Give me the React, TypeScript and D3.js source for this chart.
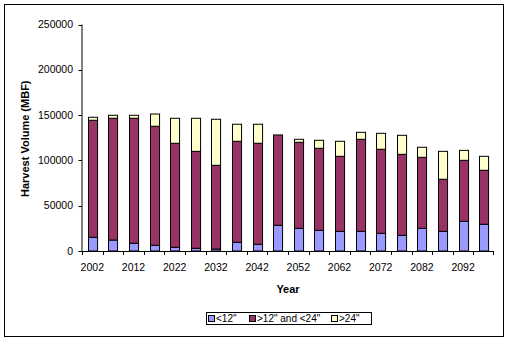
import React from "react";
import * as d3 from "d3";

const years = [2002, 2007, 2012, 2017, 2022, 2027, 2032, 2037, 2042, 2047, 2052, 2057, 2062, 2067, 2072, 2077, 2082, 2087, 2092, 2097];
const small = [15100, 12100, 8500, 6300, 4100, 3000, 2200, 9600, 7400, 28400, 25000, 22800, 21700, 21700, 19500, 17300, 25000, 21700, 32800, 29500];
const mid = [129200, 134400, 138000, 131400, 114800, 107000, 92400, 111500, 111500, 99700, 95000, 90600, 82800, 101600, 92800, 89400, 78400, 57500, 67300, 59600];
const large = [3300, 3300, 3300, 13500, 27600, 36500, 50800, 18800, 21000, 0, 3300, 8800, 16600, 7700, 17600, 21000, 11100, 30800, 11000, 15400];
const seriesNames = ['<12"', '>12" and <24"', '>24"'];
const colors = ["#9999FF", "#993366", "#FFFFCC"];
const yTicks = [0, 50000, 100000, 150000, 200000, 250000];

export default function App() {
  const W = 512, H = 344;
  const left = 82, right = 494, top = 24.5, bottom = 251;
  const x = d3.scaleBand<number>().domain(years).range([left, right]).paddingInner(0.56).paddingOuter(0.28);
  const xb = d3.scaleBand<number>().domain(years).range([left, right]);
  const y = d3.scaleLinear().domain([0, 250000]).range([bottom, top]);
  const table = years.map((yr, i) => ({ year: yr, s: small[i], m: mid[i], l: large[i] }));
  const stacked = d3.stack<any>().keys(["s", "m", "l"])(table);
  const font = "'Liberation Sans', Arial, sans-serif";
  const legendX = 206, legendY = 312;
  const legendItems = [
    { x: 208, tx: 216 },
    { x: 249, tx: 257 },
    { x: 331, tx: 339 },
  ];
  return (
    <svg width={W} height={H} style={{ position: "absolute", left: 0, top: 0 }} fontFamily={font}>
      <rect x={0} y={0} width={W} height={H} fill="#fff" />
      <rect x={4.5} y={4.5} width={499} height={332} fill="#fff" stroke="#000" strokeWidth={1} />
      {stacked.map((ser, si) =>
        ser.map((d, i) => {
          const h = y(d[0]) - y(d[1]);
          if (h <= 0) return null;
          return (
            <rect key={si + "-" + i} x={Math.round(x(years[i])!) + 0.5} y={y(d[1])} width={x.bandwidth()} height={h}
              fill={colors[si]} stroke="#000" strokeWidth={1} />
          );
        })
      )}
      <line x1={left} x2={left} y1={top} y2={bottom} stroke="#000" />
      <line x1={left} x2={right} y1={bottom + 0.5} y2={bottom + 0.5} stroke="#000" />
      {yTicks.map((t) => (
        <g key={t}>
          <line x1={left - 3.5} x2={left} y1={Math.round(y(t)) + 0.5} y2={Math.round(y(t)) + 0.5} stroke="#000" />
          <text x={left - 9} y={y(t)} dy="0.35em" textAnchor="end" fontSize={10.5}>{t}</text>
        </g>
      ))}
      {years.map((yr) => (
        <line key={yr} x1={Math.round(xb(yr)!) + 0.5} x2={Math.round(xb(yr)!) + 0.5} y1={bottom} y2={bottom + 4} stroke="#000" />
      ))}
      <line x1={right - 0.5} x2={right - 0.5} y1={bottom} y2={bottom + 4} stroke="#000" />
      {years.map((yr, i) => i % 2 === 0 ? (
        <text key={yr} x={xb(yr)! + xb.bandwidth() / 2} y={267} dy="0.35em" textAnchor="middle" fontSize={10.5}>{yr}</text>
      ) : null)}
      <text x={(left + right) / 2} y={289} dy="0.35em" textAnchor="middle" fontSize={11} fontWeight="bold">Year</text>
      <text transform={`translate(25,${(top + bottom) / 2 + 1}) rotate(-90)`} dy="0.35em" textAnchor="middle" fontSize={11} fontWeight="bold">Harvest Volume (MBF)</text>
      <rect x={legendX + 0.5} y={legendY + 0.5} width={165} height={12} fill="#fff" stroke="#000" />
      {legendItems.map((it, i) => (
        <g key={i}>
          <rect x={it.x + 0.5} y={legendY + 3.5} width={6} height={6} fill={colors[i]} stroke="#000" />
          <text x={it.tx} y={legendY + 6.5} dy="0.35em" fontSize={10}>{seriesNames[i]}</text>
        </g>
      ))}
    </svg>
  );
}
